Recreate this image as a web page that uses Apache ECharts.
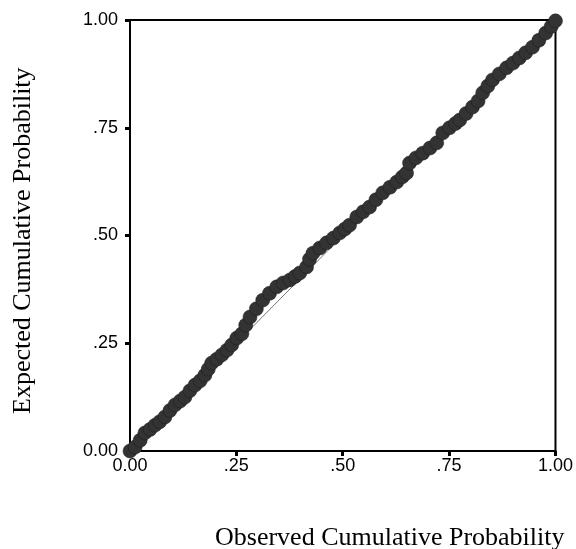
<!doctype html>
<html>
<head>
<meta charset="utf-8">
<title>P-P Plot</title>
<script src="https://cdn.jsdelivr.net/npm/echarts@6/dist/echarts.min.js"></script>
<style>
    html,body{
        margin: 0;
        padding: 0;
        background: #fff;
    }
    #pp_chart{
        width: 576px;
        height: 549px;
    }
</style>
</head>
<body>
    <div id="pp_chart"></div>
<script>
    // observed / expected cumulative probability
    var observed = [0.000,0.012,0.024,0.035,0.047,0.059,0.070,0.082,0.094,0.106,
        0.118,0.129,0.141,0.153,0.165,0.176,0.184,0.192,0.204,0.216,
        0.228,0.239,0.251,0.263,0.272,0.282,0.297,0.312,0.328,0.345,
        0.360,0.376,0.388,0.399,0.415,0.422,0.430,0.446,0.462,0.478,
        0.493,0.505,0.516,0.533,0.548,0.563,0.578,0.594,0.611,0.627,
        0.640,0.650,0.657,0.672,0.688,0.705,0.721,0.735,0.751,0.765,
        0.775,0.790,0.805,0.818,0.829,0.841,0.852,0.868,0.885,0.900,
        0.915,0.930,0.946,0.961,0.977,0.990,1.000];
    var expected = [0.000,0.009,0.025,0.042,0.050,0.060,0.068,0.079,0.094,0.107,
        0.116,0.125,0.140,0.153,0.163,0.176,0.190,0.204,0.213,0.223,
        0.234,0.246,0.262,0.272,0.292,0.311,0.330,0.350,0.366,0.381,
        0.390,0.397,0.405,0.413,0.427,0.445,0.459,0.471,0.483,0.494,
        0.506,0.515,0.524,0.543,0.555,0.566,0.583,0.599,0.612,0.624,
        0.636,0.645,0.668,0.680,0.691,0.703,0.715,0.738,0.750,0.760,
        0.768,0.783,0.798,0.812,0.831,0.847,0.861,0.875,0.889,0.900,
        0.912,0.924,0.937,0.953,0.970,0.985,0.998];
    var refLine = [[0, 0], [1, 1]];
    var tickLabels = {0: '0.00', 0.25: '.25', 0.5: '.50', 0.75: '.75', 1: '1.00'};

    var points = [];
    for (var i = 0; i < observed.length; i++) {
        points.push([observed[i], expected[i]]);
    }

    function axisCfg(){
        return {
            type: 'value',
            min: 0,
            max: 1,
            interval: 0.25,
            axisLine: { show: true, lineStyle: { color: '#000', width: 2 } },
            axisTick: { show: true, inside: false, length: 5, lineStyle: { color: '#000', width: 3 } },
            splitLine: { show: false },
            axisLabel: {
                color: '#000',
                fontFamily: 'Liberation Sans',
                fontSize: 18,
                formatter: function(v){ return tickLabels[v]; }
            }
        };
    }

    var xAxis = axisCfg();
    xAxis.axisLabel.margin = 6;
    var yAxis = axisCfg();
    yAxis.axisLabel.margin = 12;

    var option = {
        animation: false,
        grid: {
            left: 130,
            right: 20,
            top: 20,
            bottom: 98,
            show: true,
            borderColor: '#000',
            borderWidth: 2
        },
        xAxis: xAxis,
        yAxis: yAxis,
        series: [{
            type: 'line',
            data: refLine,
            symbol: 'none',
            z: 1,
            lineStyle: { color: '#777', width: 1 }
        }, {
            type: 'scatter',
            data: points,
            symbol: 'circle',
            symbolSize: 14,
            z: 2,
            itemStyle: { color: '#333', borderColor: '#1a1a1a', borderWidth: 0.5, opacity: 1 }
        }],
        graphic: [{
            type: 'text',
            left: 215,
            top: 525,
            style: {
                text: 'Observed Cumulative Probability',
                font: '26px "Liberation Serif"',
                fill: '#000'
            }
        }, {
            type: 'text',
            x: 10,
            y: 414,
            rotation: Math.PI / 2,
            style: {
                text: 'Expected Cumulative Probability',
                font: '26px "Liberation Serif"',
                fill: '#000'
            }
        }]
    };

    var chart = echarts.init(document.getElementById('pp_chart'));
    chart.setOption(option);
</script>
</body>
</html>
